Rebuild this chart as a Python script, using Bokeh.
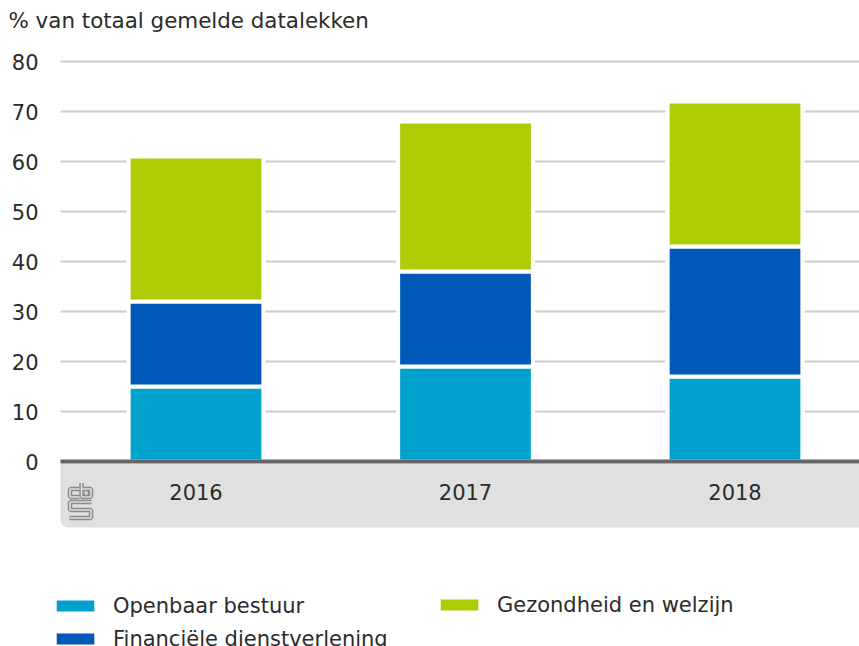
from bokeh.plotting import figure
from bokeh.models import (ColumnDataSource, Range1d, FixedTicker, BoxAnnotation,
                          Legend, LegendItem, Grid)
from bokeh.core.properties import value
from bokeh.embed import file_html
from bokeh.resources import INLINE

years = ["2016", "2017", "2018"]
openbaar = [15, 19, 17]
financieel = [17, 19, 26]
gezondheid = [29, 30, 29]
series = ["Openbaar bestuur", "Financiële dienstverlening", "Gezondheid en welzijn"]
colors = ["#00a1cd", "#0058b8", "#afcb05"]
y_ticks = [0, 10, 20, 30, 40, 50, 60, 70, 80]
y_tick_labels = ["0", "10", "20", "30", "40", "50", "60", "70", "80"]
y_title = "% van totaal gemelde datalekken"

FONT = "DejaVu Sans"
FS = "21px"
TXT = "#2b2b2b"

W, H = 859, 646
PX = 269.5      # pixels per category
PY = 5.0        # pixels per percent
CX0 = 195.5     # pixel centre of first category
Y0 = 461        # pixel row of value 0

def dx(px):
    return (px - CX0) / PX

def dy(py):
    return (Y0 - py) / PY

xs = list(range(len(years)))
totals = [a + b + c for a, b, c in zip(openbaar, financieel, gezondheid)]
src = ColumnDataSource(dict(x=xs, year=years, total=totals, zero=[0] * len(xs),
                            openbaar=openbaar, financieel=financieel, gezondheid=gezondheid))

p = figure(width=W, height=H, output_backend="svg", toolbar_location=None,
           x_range=Range1d(dx(0), dx(W)), y_range=Range1d(dy(H), dy(0)),
           x_axis_location=None, y_axis_location=None,
           min_border=0, min_border_left=0, min_border_right=0,
           min_border_top=0, min_border_bottom=0)
p.outline_line_color = None
p.background_fill_color = "white"
p.border_fill_color = "white"
p.xgrid.visible = False
p.ygrid.visible = False

# horizontal grid lines from the tick list
grid = Grid(dimension=1, ticker=FixedTicker(ticks=y_ticks),
            grid_line_color="#cccccc", grid_line_width=2)
try:
    grid.cross_bounds = (dx(60), dx(W))
except Exception:
    pass
p.add_layout(grid)

# y tick labels
tsrc = ColumnDataSource(dict(y=y_ticks, t=y_tick_labels))
p.text(x=dx(38), y="y", text="t", source=tsrc, text_font=value(FONT),
       text_font_size=FS, text_color=TXT, text_align="right", text_baseline="middle")

# title
p.text(x=[dx(8)], y=[dy(20)], text=[y_title], text_font=value(FONT),
       text_font_size="21.4px", text_color=TXT, text_align="left", text_baseline="middle")

# gray band below axis
band = BoxAnnotation(left=dx(60), top=dy(463), bottom=dy(527), fill_color="#e0e0e0",
                     fill_alpha=1, line_color=None, border_radius=(0, 0, 0, 8),
                     level="underlay")
p.add_layout(band)

# white backing behind stacks (gaps in gridlines)
p.vbar(x="x", bottom="zero", top="total", width=139 / PX, source=src,
       fill_color="white", line_color=None)

renderers = p.vbar_stack(["openbaar", "financieel", "gezondheid"], x="x", width=0.5,
                         color=colors, line_color="white", line_width=4, source=src)

# baseline (x axis line)
p.add_layout(BoxAnnotation(left=dx(60), top=dy(459), bottom=dy(463),
                           fill_color="#666666", fill_alpha=1, line_color=None))

# year labels
p.text(x="x", y=dy(491.5), text="year", source=src, text_font=value(FONT),
       text_font_size=FS, text_color=TXT, text_align="center",
       text_baseline="middle")

# cbs logo (decorative)
logo_paths = [
    [(79, 488.5), (69.5, 488.5), (69.5, 496.5), (79, 496.5)],
    [(81, 482.5), (81, 496.5), (90.5, 496.5), (90.5, 488.5), (81, 488.5)],
    [(85, 491.5), (86.5, 491.5), (86.5, 493.5), (85, 493.5), (85, 491.5)],
    [(91, 501.5), (69.5, 501.5), (69.5, 509.5), (90.5, 509.5), (90.5, 517.5), (69, 517.5)],
]
lx = [[dx(a) for a, b in path] for path in logo_paths]
ly = [[dy(b) for a, b in path] for path in logo_paths]
p.multi_line(lx, ly, line_color="#8a8a8a", line_width=4.5)
p.multi_line(lx, ly, line_color="#e0e0e0", line_width=1.5)

# legends
def make_legend(items, loc):
    return Legend(items=items, location=loc, orientation="vertical",
                  glyph_width=52, glyph_height=19, label_standoff=12, spacing=9,
                  padding=0, margin=0, border_line_color=None, background_fill_alpha=0,
                  label_text_font=FONT, label_text_font_size=FS, label_text_color=TXT)

leg1 = make_legend([LegendItem(label=series[0], renderers=[renderers[0]]),
                    LegendItem(label=series[1], renderers=[renderers[1]])], (49, -4.5))
leg2 = make_legend([LegendItem(label=series[2], renderers=[renderers[2]])], (433, 29.5))
p.add_layout(leg1, "center")
p.add_layout(leg2, "center")

open("out.html", "w").write(file_html(p, INLINE))
